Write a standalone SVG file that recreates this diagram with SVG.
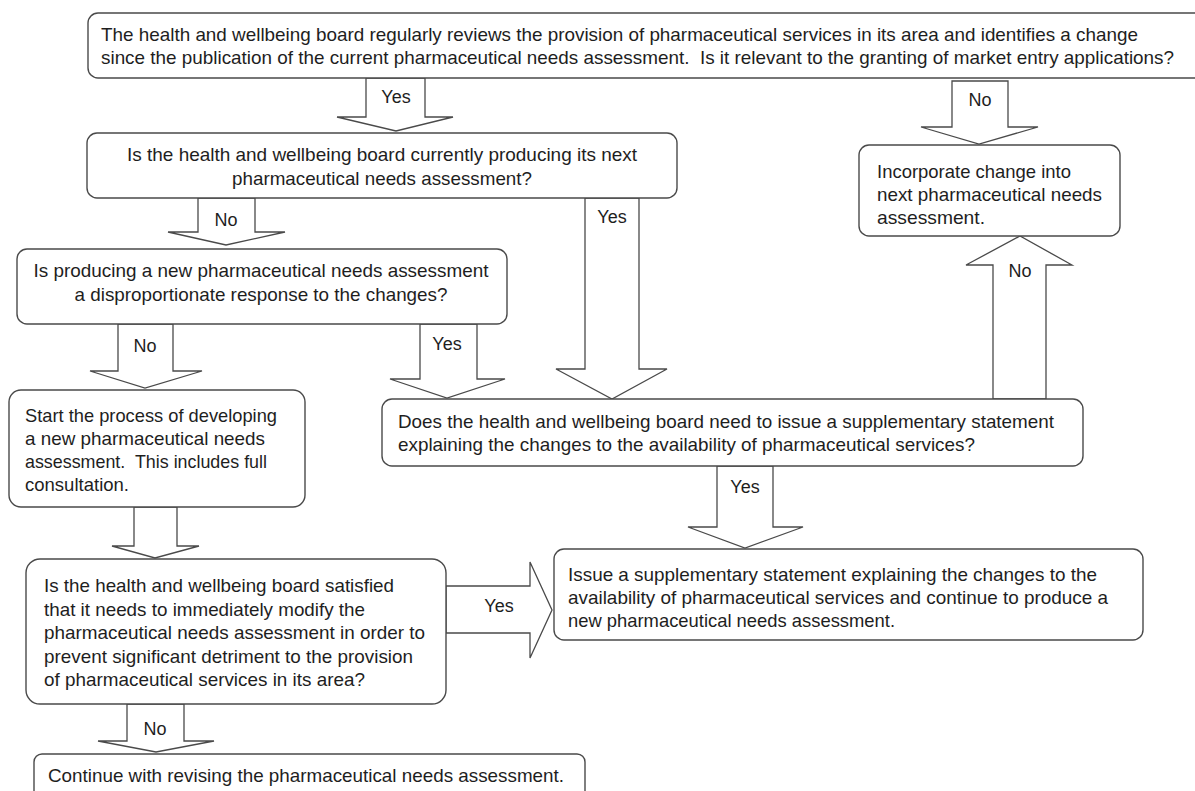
<svg xmlns="http://www.w3.org/2000/svg" width="1195" height="791" viewBox="0 0 1195 791">
<style>
.box{fill:#fff;stroke:#4a4a4a;stroke-width:1.4}
.arr{fill:#fff;stroke:#4a4a4a;stroke-width:1.3;stroke-linejoin:miter}
text{font-family:"Liberation Sans",Arial,sans-serif;font-size:19px;fill:#1e1e1e}
.lbl{font-size:18px;text-anchor:middle}
.c{text-anchor:middle}
</style>
<rect width="1195" height="791" fill="#fff"/>
<g id="connectors">
<polygon class="arr" points="366,78 425,78 425,117 453,117 396,131 337,117 366,117"/>
<text class="lbl" x="396" y="103">Yes</text>
<polygon class="arr" points="952,81 1008,81 1008,127 1038,127 979,144 921,127 952,127"/>
<text class="lbl" x="980" y="106">No</text>
<polygon class="arr" points="198,198 255,198 255,232 285,232 226,245 168,232 198,232"/>
<text class="lbl" x="226" y="226">No</text>
<polygon class="arr" points="585,198 639,198 639,369 667,369 612,399 556,369 585,369"/>
<text class="lbl" x="612" y="223">Yes</text>
<polygon class="arr" points="420,324 477,324 477,379 505,379 447,398 390,379 420,379"/>
<text class="lbl" x="447" y="350">Yes</text>
<polygon class="arr" points="118,324 173,324 173,371 202,371 145,388 90,371 118,371"/>
<text class="lbl" x="145" y="352">No</text>
<polygon class="arr" points="993,399 1046,399 1046,265 1072,265 1020,236 966,265 993,265"/>
<text class="lbl" x="1020" y="277">No</text>
<polygon class="arr" points="717,466 773,466 773,527 803,527 745,548 688,527 717,527"/>
<text class="lbl" x="745" y="493">Yes</text>
<polygon class="arr" points="134,507 177,507 177,546 199,546 155,558 112,546 134,546"/>
<polygon class="arr" points="446,586 530,586 530,562 552,610 530,658 530,633 446,633"/>
<text class="lbl" x="499" y="612">Yes</text>
<polygon class="arr" points="127,704 184,704 184,741 214,741 156,752 98,741 127,741"/>
<text class="lbl" x="155" y="735">No</text>
</g>
<g id="n-review">
<rect class="box" x="88" y="13" width="1130" height="65" rx="10"/>
<text x="101" y="41" textLength="1037" lengthAdjust="spacingAndGlyphs">The health and wellbeing board regularly reviews the provision of pharmaceutical services in its area and identifies a change</text>
<text x="101" y="64" textLength="1073" lengthAdjust="spacingAndGlyphs" xml:space="preserve">since the publication of the current pharmaceutical needs assessment.  Is it relevant to the granting of market entry applications?</text>
</g>
<g id="n-producing">
<rect class="box" x="87" y="133" width="590" height="65" rx="10"/>
<text class="c" x="382" y="161" textLength="510" lengthAdjust="spacingAndGlyphs">Is the health and wellbeing board currently producing its next</text>
<text class="c" x="382" y="185" textLength="300" lengthAdjust="spacingAndGlyphs">pharmaceutical needs assessment?</text>
</g>
<g id="n-incorporate">
<rect class="box" x="859" y="145" width="261" height="91" rx="10"/>
<text x="877" y="178" textLength="194" lengthAdjust="spacingAndGlyphs">Incorporate change into</text>
<text x="877" y="201" textLength="225" lengthAdjust="spacingAndGlyphs">next pharmaceutical needs</text>
<text x="877" y="224" textLength="108" lengthAdjust="spacingAndGlyphs">assessment.</text>
</g>
<g id="n-disproportionate">
<rect class="box" x="17" y="249" width="490" height="75" rx="10"/>
<text class="c" x="261" y="277" textLength="455" lengthAdjust="spacingAndGlyphs">Is producing a new pharmaceutical needs assessment</text>
<text class="c" x="261" y="301" textLength="373" lengthAdjust="spacingAndGlyphs">a disproportionate response to the changes?</text>
</g>
<g id="n-start">
<rect class="box" x="9" y="390" width="296" height="117" rx="12"/>
<text x="25" y="422" textLength="252" lengthAdjust="spacingAndGlyphs">Start the process of developing</text>
<text x="25" y="445" textLength="240" lengthAdjust="spacingAndGlyphs">a new pharmaceutical needs</text>
<text x="25" y="468" textLength="242" lengthAdjust="spacingAndGlyphs" xml:space="preserve">assessment.  This includes full</text>
<text x="25" y="491" textLength="104" lengthAdjust="spacingAndGlyphs">consultation.</text>
</g>
<g id="n-supplementary">
<rect class="box" x="382" y="399" width="701" height="67" rx="10"/>
<text x="398" y="428" textLength="656" lengthAdjust="spacingAndGlyphs">Does the health and wellbeing board need to issue a supplementary statement</text>
<text x="398" y="451" textLength="577" lengthAdjust="spacingAndGlyphs">explaining the changes to the availability of pharmaceutical services?</text>
</g>
<g id="n-issue">
<rect class="box" x="554" y="549" width="589" height="91" rx="10"/>
<text x="568" y="581" textLength="529" lengthAdjust="spacingAndGlyphs">Issue a supplementary statement explaining the changes to the</text>
<text x="568" y="604" textLength="540" lengthAdjust="spacingAndGlyphs">availability of pharmaceutical services and continue to produce a</text>
<text x="568" y="627" textLength="327" lengthAdjust="spacingAndGlyphs">new pharmaceutical needs assessment.</text>
</g>
<g id="n-satisfied">
<rect class="box" x="26" y="559" width="420" height="145" rx="14"/>
<text x="44" y="592" textLength="350" lengthAdjust="spacingAndGlyphs">Is the health and wellbeing board satisfied</text>
<text x="44" y="615.5" textLength="321" lengthAdjust="spacingAndGlyphs">that it needs to immediately modify the</text>
<text x="44" y="639" textLength="381" lengthAdjust="spacingAndGlyphs">pharmaceutical needs assessment in order to</text>
<text x="44" y="662.5" textLength="369" lengthAdjust="spacingAndGlyphs">prevent significant detriment to the provision</text>
<text x="44" y="686" textLength="321" lengthAdjust="spacingAndGlyphs">of pharmaceutical services in its area?</text>
</g>
<g id="n-continue">
<rect class="box" x="34" y="754" width="551" height="60" rx="8"/>
<text x="48" y="782" textLength="516" lengthAdjust="spacingAndGlyphs">Continue with revising the pharmaceutical needs assessment.</text>
</g>
</svg>
